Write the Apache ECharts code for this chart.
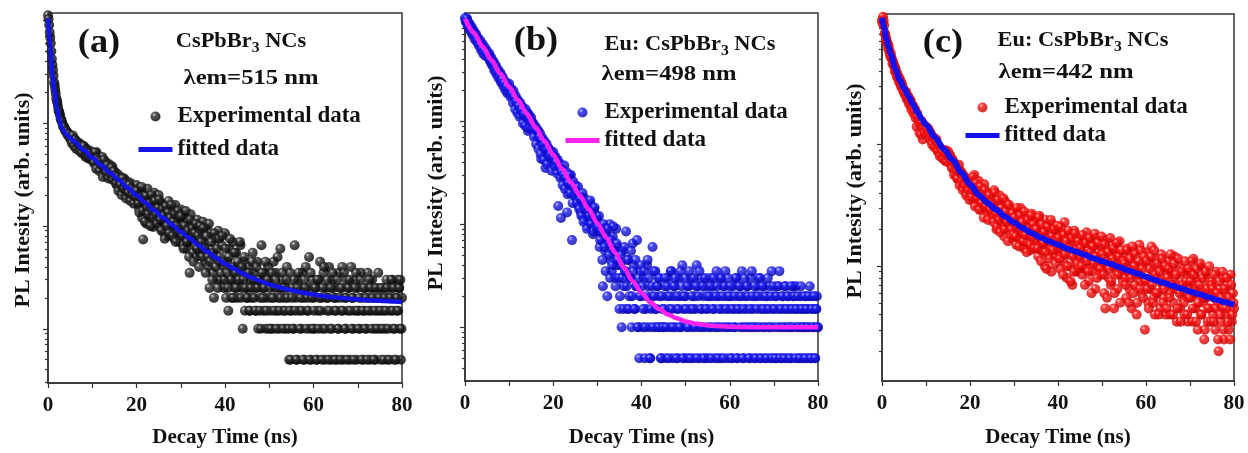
<!DOCTYPE html>
<html><head><meta charset="utf-8">
<script src="https://cdn.jsdelivr.net/npm/echarts@6/dist/echarts.min.js"></script>
<style>html,body{margin:0;padding:0;background:#fff}#c{width:1248px;height:453px}</style>
</head><body><div id="c"></div>
<script>
// ---- sampling of the experimental decays (ns) ----
// channel set 1 at t = k*0.25, channel set 2 at t = 0.125 + k*0.25
const T_STEP = 0.25;
const T_OFFSET_2 = 0.125;

// Panel (a) CsPbBr3 NCs, λem = 515 nm
const EXP_A = [
 11200,9000,6800,5000,3700,2900,2350,1950,1650,1450,1300,1180,1080,1000,940,890,860,830,800,780,
 760,690,720,650,700,610,660,580,640,560,620,520,590,530,470,560,500,450,540,460,
 500,430,470,400,520,380,440,410,360,470,390,330,420,370,310,400,350,300,380,330,
 340,280,250,320,270,230,300,250,215,290,240,200,270,225,190,260,215,240,180,230,
 250,180,150,215,170,120,74,200,160,105,230,145,125,185,135,98,210,150,115,170,
 200,130,95,165,110,85,150,120,80,175,105,90,140,100,75,160,115,85,130,70,
 145,95,65,120,80,60,110,70,35,130,85,55,100,65,50,115,75,55,90,60,
 110,70,45,95,55,40,25,85,60,35,20,75,50,30,90,45,30,65,40,25,
 85,20,45,15,60,30,20,70,35,25,55,20,40,30,65,25,10,45,15,35,
 25,40,15,30,20,55,35,25,15,45,10,30,20,65,25,15,35,10,20,40,
 30,15,20,10,45,25,35,15,20,10,60,25,30,15,20,10,40,25,5,35,
 15,25,10,65,20,5,30,15,25,10,35,20,5,40,15,25,50,10,5,30,
 20,10,25,5,15,30,45,20,10,35,5,25,15,20,40,10,5,30,25,15,
 20,5,10,35,25,15,40,5,20,10,30,15,25,5,40,20,10,15,30,5,
 25,15,10,35,20,5,15,25,10,35,20,5,15,30,25,10,5,20,15,25,
 10,5,20,15,25,10,30,5,20,15,25,30,10,5,20,15,30,25,10,5,
 20
];
const EXP_A2 = [
 10300,7600,6000,4200,3300,2500,2150,1750,1580,1330,1240,1090,1050,930,920,840,840,770,780,720,
 700,640,760,600,690,560,640,620,540,600,510,580,600,490,540,520,460,510,480,440,
 460,410,520,360,450,430,340,420,390,300,440,360,330,390,290,360,320,370,280,340,
 310,260,300,220,280,250,200,290,230,260,185,245,210,250,175,230,200,165,220,190,
 220,165,135,190,240,140,175,110,195,150,130,165,100,200,140,120,175,130,105,150,
 180,115,90,145,125,75,155,100,135,85,120,160,80,110,130,70,100,140,90,120,
 125,80,60,100,140,70,90,50,115,75,95,45,85,105,60,80,40,100,70,50,
 95,60,35,80,50,105,45,70,30,55,85,40,60,25,75,50,35,80,45,30,
 60,35,25,50,75,30,40,20,55,35,25,45,30,70,20,40,30,50,25,20,
 20,35,15,25,45,30,20,15,40,25,30,15,10,35,20,25,45,15,30,10,
 25,10,35,20,15,30,10,50,25,15,20,35,10,25,15,30,20,10,15,5,
 20,10,30,15,5,25,35,10,20,15,5,30,25,10,20,15,5,35,20,10,
 15,25,5,30,10,20,15,5,25,40,10,20,30,5,15,25,10,35,20,5,
 15,30,10,20,5,25,15,35,10,20,5,25,30,15,10,20,5,25,35,15,
 10,20,30,5,15,25,10,20,5,15,30,25,10,20,5,15,25,10,35,20,
 15,25,10,5,20,15,25,10,5,20,30,15,25,10,5,20,15,25,30,10
];
const FIT_A_T = [0,0.5,1,1.5,2,2.5,3,4,5,6,8,10,12,14,16,18,20,22,24,26,28,30,32,34,36,38,40,42,44,46,48,50,52,54,56,58,60,62,64,66,68,70,72,74,76,78,80];
const FIT_A_V = [10500,5500,2900,2000,1400,1100,920,790,720,660,550,460,390,330,280,235,200,168,142,120,103,88,76,65,56,49,43,38.5,34.5,31.5,29,27,25.5,24.3,23.2,22.3,21.5,20.9,20.4,20,19.6,19.3,19,18.8,18.6,18.4,18.2];

// Panel (b) Eu: CsPbBr3 NCs, λem = 498 nm
const EXP_B = [
 10000,9100,9700,8500,8800,7700,8200,7100,7500,6600,7000,6200,6400,5700,6000,5300,5600,4900,5200,4600,
 4800,4150,4500,3750,4100,3500,3750,3200,3450,2950,3150,2700,2950,2450,2700,2300,2450,2100,2300,1900,
 2300,1950,2050,1750,1950,1600,1750,1450,1600,1350,1500,1150,1380,1250,1000,1300,1100,800,1150,1000,
 1080,900,950,780,880,720,820,650,760,430,690,560,640,350,600,470,540,440,500,400,
 500,410,450,380,420,330,390,115,340,280,370,250,320,195,280,240,300,70,260,200,
 240,180,200,150,190,130,170,120,180,110,150,130,95,160,110,125,80,140,100,120,
 110,85,60,95,70,25,90,55,80,20,65,100,45,35,75,55,30,90,40,60,
 15,40,10,55,25,35,85,15,45,20,30,10,65,40,15,25,70,10,5,35,
 20,10,30,5,15,40,25,10,5,20,60,35,15,10,25,30,20,10,5,15,
 10,25,5,20,30,15,10,35,5,20,25,10,15,5,30,20,10,40,15,5,
 20,10,5,25,15,30,10,5,20,15,40,25,10,5,30,15,20,10,5,25,
 15,5,30,10,20,25,15,5,35,10,20,30,5,15,25,10,35,20,5,15,
 10,20,5,25,15,10,30,5,20,15,25,35,10,5,20,15,25,10,5,30,
 35,15,5,20,10,25,30,5,15,20,10,25,5,15,20,10,25,5,35,15,
 10,20,5,25,15,35,10,5,20,15,25,10,5,20,15,10,5,20,25,15,
 25,10,5,15,20,10,5,15,10,20,5,15,10,5,20,15,10,5,15,20,
 10
];
const EXP_B2 = [
 9400,9900,8300,8900,7600,8000,6900,7400,6300,6700,5900,6100,5400,5600,4900,5100,4500,4800,4300,4500,
 4200,4400,3900,3900,3500,3700,3100,3350,2850,3050,2600,2800,2400,2550,2200,2350,2000,2150,1850,2000,
 2050,1700,1850,1500,1700,1300,1550,1200,1400,1100,1250,1300,950,1150,900,1100,1200,850,1050,900,
 980,820,700,860,600,800,540,700,480,650,580,420,600,520,380,540,450,480,330,430,
 450,360,400,310,150,360,280,320,240,300,220,280,130,250,300,200,240,160,230,190,
 210,160,230,140,175,120,200,105,160,140,90,150,120,170,100,130,85,145,110,90,
 95,120,70,85,45,100,60,35,75,90,50,30,70,40,95,55,25,65,45,30,
 20,50,30,15,60,35,25,45,15,30,55,20,35,15,45,25,10,30,20,40,
 25,15,35,10,20,45,30,5,15,25,10,20,35,15,25,10,30,5,20,10,
 15,30,10,25,5,20,35,15,10,25,30,5,20,15,10,35,25,5,20,30,
 15,25,10,35,5,20,15,30,10,25,5,20,35,15,10,25,5,30,15,20,
 10,20,25,5,15,30,10,20,25,5,15,10,30,20,5,25,15,10,30,20,
 25,5,15,10,20,30,5,15,25,10,20,5,15,30,10,25,20,5,15,10,
 20,10,25,5,15,20,10,30,5,25,15,10,20,5,30,15,10,20,5,25,
 15,5,20,10,25,5,15,20,10,5,25,15,20,10,5,25,15,10,20,5,
 15,20,10,5,25,15,10,20,5,15,10,20,25,5,15,10,20,5,15,10
];
const FIT_B_T = [0,2,4,6,8,10,12,14,16,18,20,22,24,26,28,30,32,34,36,38,40,42,44,46,48,50,52,54,56,58,60,62,64,66,68,70,72,74,76,78,80];
const FIT_B_V = [9800,7200,5300,3900,2900,2150,1600,1180,870,640,470,345,255,190,140,102,74,53,38,28,21.5,17.5,15,13.3,12.2,11.4,10.9,10.6,10.35,10.2,10.1,10.05,10.03,10.02,10.01,10,10,10,10,10,10];

// Panel (c) Eu: CsPbBr3 NCs, λem = 442 nm
const EXP_C = [
 10500,11200,9500,8000,7400,6700,6500,5600,5600,5000,4800,4400,4300,3800,3800,3450,3500,3100,3200,2850,
 2800,2550,2700,2400,2450,2250,2300,2050,2100,1900,1950,1750,1800,1600,1250,1500,1550,1100,1450,1330,
 1400,1250,1350,1150,1250,1080,1150,1000,1080,950,1000,880,950,830,900,780,860,740,820,760,
 880,760,820,690,760,620,700,560,640,520,680,500,600,460,560,430,520,400,500,380,
 520,400,470,350,560,380,440,320,500,360,290,420,340,470,300,380,260,400,330,280,
 360,250,420,290,200,330,270,380,220,300,250,175,340,260,210,310,240,170,290,220,
 280,190,150,250,210,165,300,230,180,140,260,200,155,240,185,135,270,210,160,190,
 230,160,120,260,180,135,210,150,100,240,170,125,195,145,90,220,165,120,185,140,
 200,130,95,175,140,110,230,150,80,185,125,100,160,70,135,195,115,90,150,120,
 170,115,85,150,125,95,190,135,75,160,110,90,145,120,65,170,100,130,85,150,
 140,95,60,45,165,110,80,125,70,150,100,45,135,90,65,115,160,85,105,75,
 120,80,55,140,95,65,110,45,85,130,70,100,50,90,150,75,60,105,80,30,
 130,75,50,105,65,145,90,55,40,115,80,60,100,45,125,70,55,95,40,85,
 110,60,40,90,70,50,120,80,35,65,100,45,75,55,95,40,60,85,35,70,
 90,55,35,115,70,45,80,30,60,100,40,65,50,25,85,55,35,75,45,60,
 75,40,55,30,90,50,20,65,35,45,80,25,60,40,70,30,50,85,35,60,
 45
];
const EXP_C2 = [
 9800,10400,8200,7200,6900,6100,6000,5300,5200,4600,4600,4000,4100,3600,3650,3250,3300,2950,3000,2700,
 2700,2600,2350,2500,2150,2300,1950,2100,1800,1900,1650,1400,1700,1500,1600,1200,1500,1350,1250,1400,
 1350,1200,1300,1100,1200,1000,1150,950,1050,1100,880,980,800,920,860,760,840,900,720,800,
 820,700,760,640,720,560,680,600,520,620,460,580,500,420,540,460,380,500,420,350,
 460,370,540,420,310,480,360,400,290,450,330,380,250,420,310,350,240,380,290,330,
 320,230,400,270,210,350,240,190,300,260,360,200,280,230,160,320,250,200,270,180,
 250,175,300,210,145,260,195,230,160,280,180,130,240,200,150,260,175,220,140,200,
 200,140,250,170,110,220,155,190,130,95,210,160,115,240,175,135,200,105,160,215,
 170,115,210,140,85,180,125,160,100,195,140,75,170,120,90,185,135,105,160,95,
 140,100,180,120,70,155,110,90,170,130,60,145,105,185,120,80,155,110,95,175,
 125,85,150,105,55,130,95,170,75,115,140,60,100,155,85,120,50,135,95,110,
 105,70,135,90,50,115,80,145,60,100,125,40,85,110,65,135,95,55,120,75,
 110,65,45,95,120,70,50,135,85,60,105,40,90,75,115,50,65,100,45,80,
 95,55,125,70,40,105,65,85,45,115,60,35,90,70,50,110,75,40,95,55,
 75,110,45,85,60,35,95,50,70,105,40,80,55,30,90,65,45,100,35,70,
 65,35,85,45,60,25,75,40,55,90,30,65,45,80,35,55,25,70,40,50
];
const FIT_C_T = [0,0.5,1,1.5,2,3,4,5,6,7,8,9,10,12,14,16,18,20,22,24,26,28,30,32,34,36,38,40,42,44,46,48,50,52,54,56,58,60,62,64,66,68,70,72,74,76,78,80];
const FIT_C_V = [11000,9000,7300,6300,5500,4200,3400,2900,2500,2150,1850,1620,1450,1150,920,750,590,470,385,330,290,255,228,205,187,172,160,150,140,132,124,116,110,104,98,92,87,82,77,73,69,65.5,62,59,56,53,50.5,48];

// ---- axis ticks ----
const X_MIN = 0, X_MAX = 80, X_INTERVAL = 20;
const Y_MAJOR_TICKS = [10, 100, 1000, 10000];
const Y_MINOR_MANTISSAS = [2,3,4,5,6,7,8,9];
const Y_MINOR_DECADES = [1, 10, 100, 1000];

// ---- texts ----
const PANEL_LABELS = ['(a)', '(b)', '(c)'];
const SAMPLES = ['CsPbBr|3| NCs', 'Eu: CsPbBr|3| NCs', 'Eu: CsPbBr|3| NCs'];
const EMISSIONS = ['λem=515 nm', 'λem=498 nm', 'λem=442 nm'];
const LEGEND_NAMES = ['Experimental data', 'fitted data'];
const X_TITLE = 'Decay Time (ns)';
const Y_TITLE = 'PL Intesity (arb. units)';

const FONT = '"Liberation Serif","Times New Roman",serif';
const INK = '#111';

const panels = [
  { exp: EXP_A, exp2: EXP_A2, fitT: FIT_A_T, fitV: FIT_A_V,
    grid: {left: 48, top: 13, width: 354, height: 371}, yMin: 2.97, yMax: 11790,
    dot: ['#c8c8c8', '#2a2a2a', '#000000'], fitColor: '#1414e6', fitWidth: 4.5,
    nameGap: 44, label: [99, 43], sample: [241, 42], emis: [251, 78], ytitle: [23, 200],
    legend: {left: 136, top: 105, itemGap: 10} },
  { exp: EXP_B, exp2: EXP_B2, fitT: FIT_B_T, fitV: FIT_B_V,
    grid: {left: 465, top: 13, width: 353, height: 372}, yMin: 3.01, yMax: 11170,
    dot: ['#b4b8ff', '#1c1cf4', '#0000a0'], fitColor: '#ff22ee', fitWidth: 4.5,
    nameGap: 46, label: [536, 41], sample: [690, 45], emis: [669, 74], ytitle: [436, 183],
    legend: {left: 563, top: 101, itemGap: 5} },
  { exp: EXP_C, exp2: EXP_C2, fitT: FIT_C_T, fitV: FIT_C_V,
    grid: {left: 882, top: 14, width: 352, height: 369}, yMin: 11.4, yMax: 11780,
    dot: ['#ffc0c0', '#ff1010', '#c00000'], fitColor: '#1010f0', fitWidth: 6,
    nameGap: 46, label: [943, 43], sample: [1083, 41], emis: [1066, 72], ytitle: [855, 191],
    legend: {left: 963, top: 96, itemGap: 5} }
];

const minorAll = [];
Y_MINOR_DECADES.forEach(d => Y_MINOR_MANTISSAS.forEach(m => minorAll.push(m * d)));

const axisLine = {show: true, lineStyle: {color: '#333', width: 1.5}};
const tickLine = {color: '#333', width: 1.2};
const boldText = {fontFamily: FONT, fontWeight: 'bold', color: INK};

const option = {
  animation: false,
  backgroundColor: '#fff',
  grid: [], xAxis: [], yAxis: [], series: [], legend: [], graphic: []
};

panels.forEach((p, i) => {
  const sfx = ' ' + PANEL_LABELS[i];
  option.grid.push(Object.assign({show: true, borderColor: '#333', borderWidth: 1.5, backgroundColor: 'transparent'}, p.grid));
  option.xAxis.push({
    gridIndex: i, type: 'value', min: X_MIN, max: X_MAX, interval: X_INTERVAL,
    axisLine: axisLine,
    axisTick: {show: true, length: 5, lineStyle: tickLine},
    minorTick: {show: true, splitNumber: 2, length: 5, lineStyle: tickLine},
    splitLine: {show: false}, minorSplitLine: {show: false},
    axisLabel: Object.assign({fontSize: 21, margin: 12}, boldText),
    name: X_TITLE, nameLocation: 'middle', nameGap: p.nameGap,
    nameTextStyle: Object.assign({fontSize: 21}, boldText)
  });
  option.yAxis.push({
    gridIndex: i, type: 'log', logBase: 10, min: p.yMin, max: p.yMax, position: 'left',
    axisLine: axisLine,
    axisTick: {show: true, length: 5, lineStyle: tickLine, customValues: Y_MAJOR_TICKS},
    axisLabel: {show: false}, splitLine: {show: false}
  });
  option.yAxis.push({
    gridIndex: i, type: 'log', logBase: 10, min: p.yMin, max: p.yMax, position: 'left', offset: 0,
    axisLine: {show: false},
    axisTick: {show: true, length: 3, lineStyle: tickLine,
      customValues: minorAll.filter(v => v > p.yMin && v < p.yMax)},
    axisLabel: {show: false}, splitLine: {show: false}
  });
  const pts = p.exp.map((v, k) => [+(k * T_STEP).toFixed(3), v])
    .concat(p.exp2.map((v, k) => [+(T_OFFSET_2 + k * T_STEP).toFixed(3), v]));
  option.series.push({
    name: LEGEND_NAMES[0] + sfx, type: 'scatter', xAxisIndex: i, yAxisIndex: 2 * i,
    data: pts, symbol: 'circle', symbolSize: 10, z: 2,
    itemStyle: {color: {type: 'radial', x: 0.36, y: 0.32, r: 0.7,
      colorStops: [{offset: 0, color: p.dot[0]}, {offset: 0.3, color: p.dot[1]}, {offset: 1, color: p.dot[2]}]}}
  });
  option.series.push({
    name: LEGEND_NAMES[1] + sfx, type: 'line', xAxisIndex: i, yAxisIndex: 2 * i,
    data: p.fitT.map((t, k) => [t, p.fitV[k]]),
    symbol: 'none', showSymbol: false, smooth: 0.3, smoothMonotone: 'x', z: 3,
    itemStyle: {color: p.fitColor},
    lineStyle: {color: p.fitColor, width: p.fitWidth}
  });
  option.legend.push({
    orient: 'vertical', left: p.legend.left, top: p.legend.top, padding: 0,
    itemWidth: 34, itemHeight: 10, itemGap: p.legend.itemGap, selectedMode: false,
    textStyle: Object.assign({fontSize: 23}, boldText),
    formatter: n => n.slice(0, n.length - 4),
    data: [{name: LEGEND_NAMES[0] + sfx, icon: 'circle'},
           {name: LEGEND_NAMES[1] + sfx, lineStyle: {width: 5, color: p.fitColor}, itemStyle: {opacity: 0}}]
  });
  const parts = SAMPLES[i].split('|');
  option.graphic.push(
    {type: 'text', x: p.label[0], y: p.label[1], scaleX: 1.1, silent: true,
     style: {text: PANEL_LABELS[i], fontSize: 33, fontWeight: 'bold', fontFamily: FONT, fill: INK, align: 'center', verticalAlign: 'middle'}},
    {type: 'text', x: p.sample[0], y: p.sample[1], scaleX: 1.12, silent: true,
     style: {text: '{n|' + parts[0] + '}{s|' + parts[1] + '}{n|' + parts[2] + '}', fill: INK, align: 'center', verticalAlign: 'middle',
       rich: {n: {fontSize: 20, fontWeight: 'bold', fontFamily: FONT, fill: INK, lineHeight: 27, verticalAlign: 'middle'},
              s: {fontSize: 14, fontWeight: 'bold', fontFamily: FONT, fill: INK, lineHeight: 14, verticalAlign: 'bottom'}}}},
    {type: 'text', x: p.emis[0], y: p.emis[1], scaleX: 1.12, silent: true,
     style: {text: EMISSIONS[i], fontSize: 22, fontWeight: 'bold', fontFamily: FONT, fill: INK, align: 'center', verticalAlign: 'middle'}},
    {type: 'text', x: p.ytitle[0], y: p.ytitle[1], rotation: Math.PI / 2, silent: true,
     style: {text: Y_TITLE, fontSize: 22, fontWeight: 'bold', fontFamily: FONT, fill: INK, align: 'center', verticalAlign: 'middle'}}
  );
});

const chart = echarts.init(document.getElementById('c'), null, {renderer: 'canvas'});
chart.setOption(option);
</script>
</body></html>
